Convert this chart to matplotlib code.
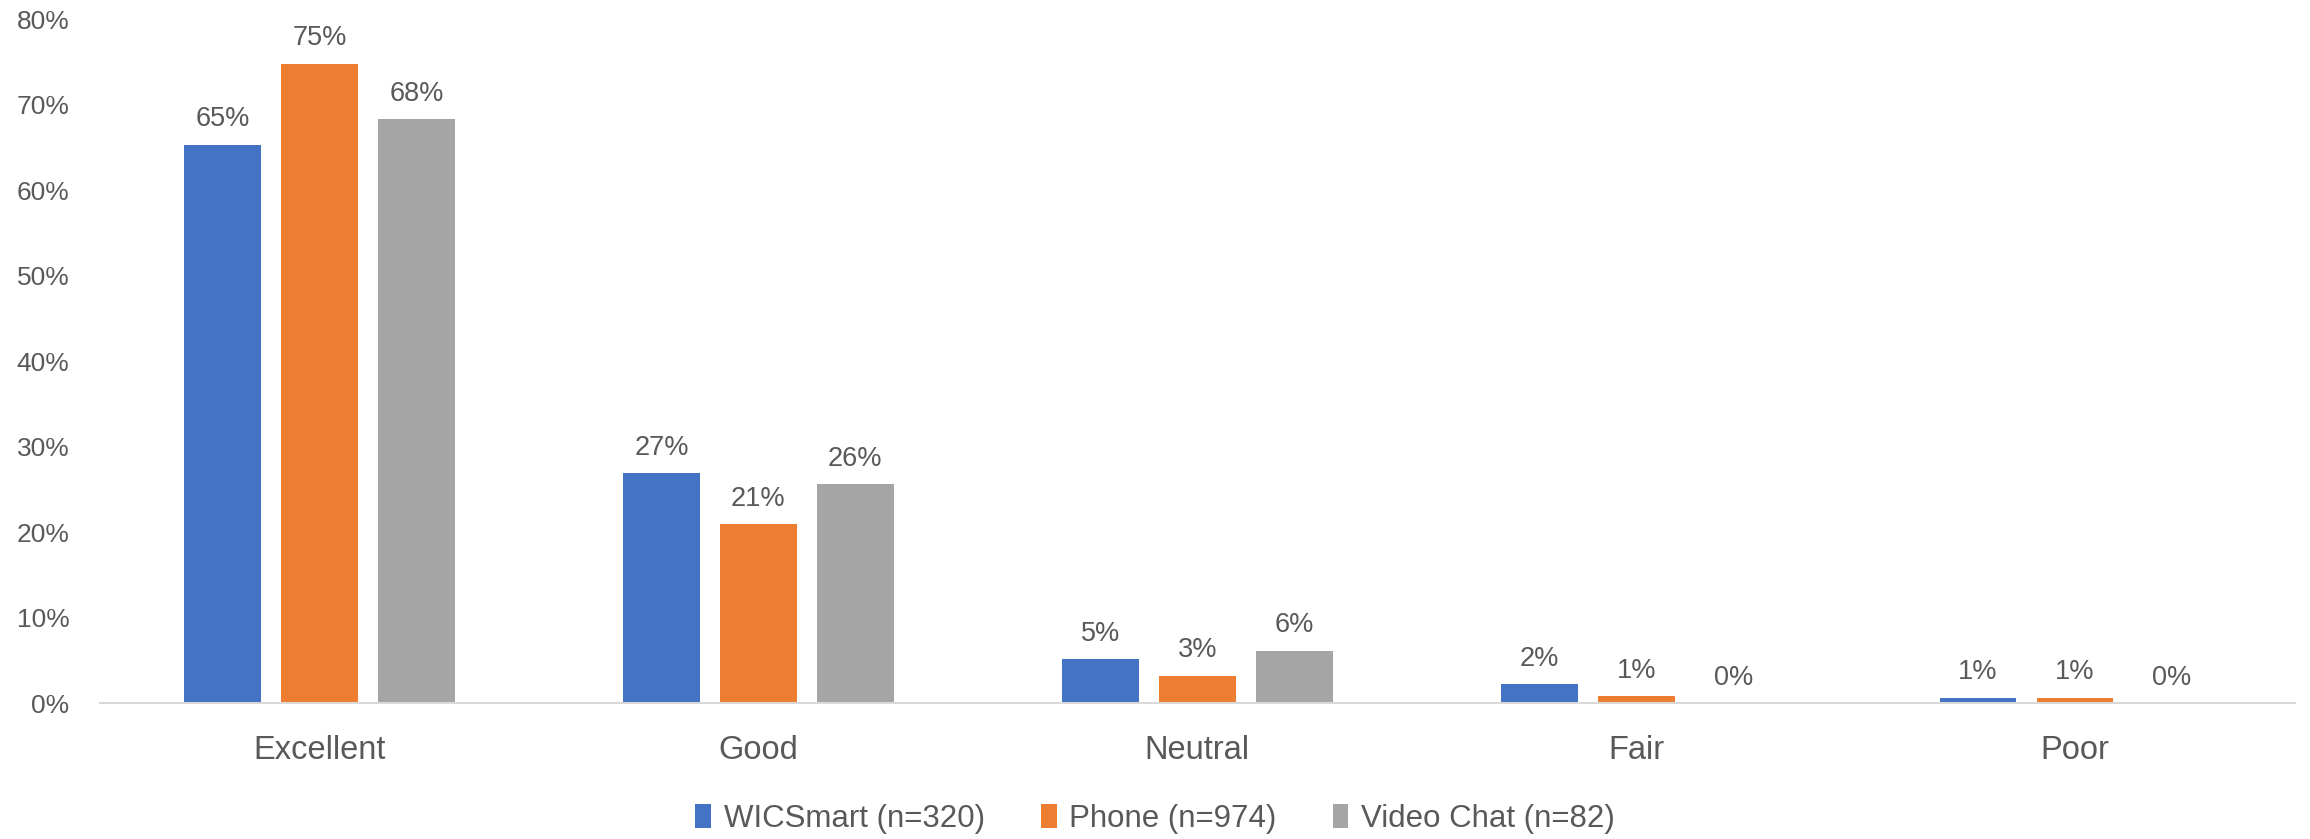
import numpy as np
import matplotlib
matplotlib.use("Agg")
import matplotlib.pyplot as plt

plt.rcParams['font.family'] = ['Liberation Sans', 'DejaVu Sans']
plt.rcParams['font.size'] = 19

categories = ['Excellent', 'Good', 'Neutral', 'Fair', 'Poor']
series_names = ['WICSmart (n=320)', 'Phone (n=974)', 'Video Chat (n=82)']
wicsmart = [65.3, 26.9, 5.1, 2.2, 0.6]
phone = [74.8, 20.9, 3.2, 0.8, 0.6]
video_chat = [68.3, 25.6, 6.1, 0.0, 0.0]
colors = ['#4472C4', '#ED7D31', '#A5A5A5']
text_color = '#595959'

fig = plt.figure(figsize=(23.1, 8.39), dpi=100)
ax = fig.add_axes([0.0433, 0.162, 0.95, 0.815])

x = np.arange(len(categories))
width = 0.175
step = 0.221
for i, (vals, name, c) in enumerate(zip([wicsmart, phone, video_chat], series_names, colors)):
    vals = np.array(vals) / 100
    bars = ax.bar(x + (i - 1) * step, vals, width, color=c, label=name, zorder=2)
    for b, v in zip(bars, vals):
        ax.annotate(f'{v*100:.0f}%', (b.get_x() + b.get_width() / 2, v),
                    xytext=(0, 9), textcoords='offset points',
                    ha='center', va='bottom', color=text_color, fontsize=19.5)

ax.set_xlim(-0.5, len(categories) - 0.5)
ax.set_ylim(0, 0.8)
ax.set_yticks(np.arange(0, 0.81, 0.1))
ax.set_yticklabels([f'{int(round(t*100))}%' for t in np.arange(0, 0.81, 0.1)])
ax.set_xticks(x)
ax.set_xticklabels(categories)
ax.tick_params(axis='y', length=0, pad=22, colors=text_color, labelsize=19)
ax.tick_params(axis='x', length=0, pad=23, colors=text_color, labelsize=23.5)
for s in ['top', 'right', 'left']:
    ax.spines[s].set_visible(False)
ax.spines['bottom'].set_color('#D9D9D9')
ax.spines['bottom'].set_linewidth(1.5)

leg = fig.legend(loc='center', bbox_to_anchor=(0.5, 0.024), ncol=3, frameon=False,
                 fontsize=22.5, handlelength=0.5, handleheight=0.8, columnspacing=1.8,
                 handletextpad=0.4)
for t in leg.get_texts():
    t.set_color(text_color)

fig.savefig('out.png', dpi=100)
